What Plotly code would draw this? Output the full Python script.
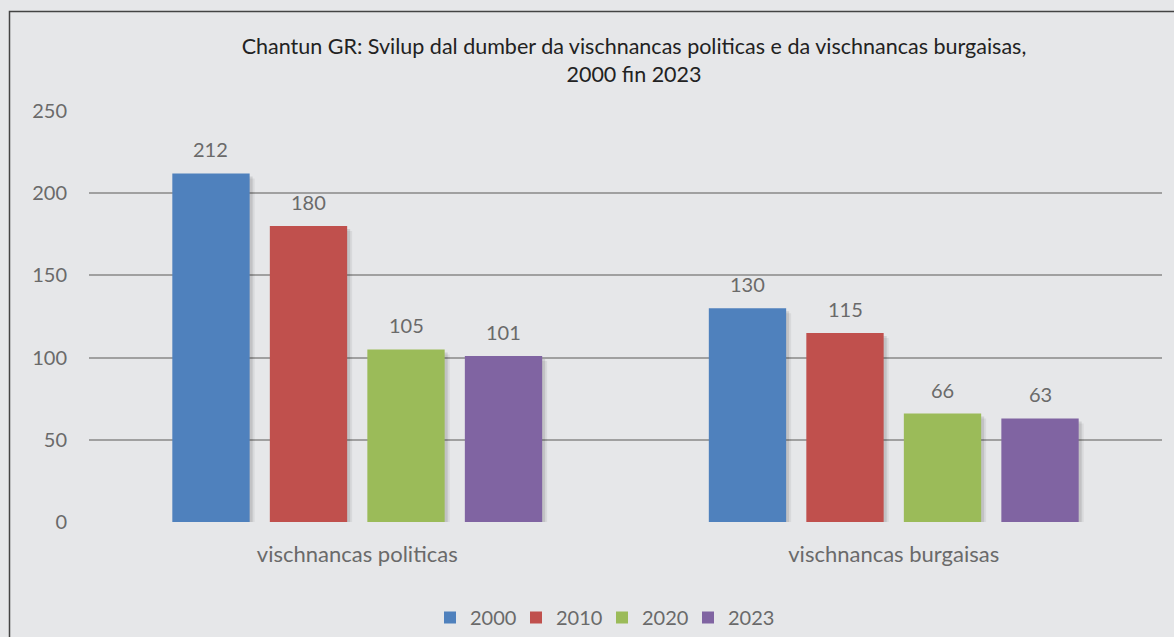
import plotly.graph_objects as go

categories = ["vischnancas politicas", "vischnancas burgaisas"]
years = ["2000", "2010", "2020", "2023"]
values = {
    "2000": [212, 130],
    "2010": [180, 115],
    "2020": [105, 66],
    "2023": [101, 63],
}
colors = ["#4f81bd", "#c0504d", "#9bbb59", "#8064a2"]
title_text = "Chantun GR: Svilup dal dumber da vischnancas politicas e da vischnancas burgaisas,<br>2000 fin 2023"
y_ticks = [0, 50, 100, 150, 200, 250]

FONT = "Lato"
BG = "#e6e7e9"
TXT = "#6a6a6a"
W, H = 1174, 637
ML, MR, MT, MB = 89, 12, 111, 115
PW, PH = W - ML - MR, H - MT - MB
YMAX = 250
bargap = 0.273
bargroupgap = 0.207

n = len(years)
slot = (1 - bargap) / n
bar_w = slot * (1 - bargroupgap)
px_x = PW / len(categories)      # pixels per category unit
px_y = PH / YMAX                 # pixels per value unit

fig = go.Figure()

# soft drop shadows
for k, yr in enumerate(years):
    center = -(1 - bargap) / 2 + slot * (k + 0.5)
    for d, a in [(5, 0.06), (3, 0.10)]:
        dx = d / px_x
        dy = d / px_y
        fig.add_trace(go.Bar(
            x=categories, y=[v for v in values[yr]], base=-dy,
            width=bar_w, offset=center - bar_w / 2 + dx,
            marker=dict(color=f"rgba(0,0,0,{a})", line=dict(width=0)),
            showlegend=False, hoverinfo="skip", cliponaxis=False,
        ))

for k, (yr, col) in enumerate(zip(years, colors)):
    center = -(1 - bargap) / 2 + slot * (k + 0.5)
    fig.add_trace(go.Bar(
        name=yr, x=categories, y=values[yr],
        width=bar_w, offset=center - bar_w / 2,
        marker=dict(color=col, line=dict(width=0)),
    ))
    for i, v in enumerate(values[yr]):
        fig.add_annotation(
            x=i + center, y=v, xref="x", yref="y", text=str(v),
            showarrow=False, yanchor="bottom", yshift=10,
            font=dict(family=FONT, size=20, color=TXT),
        )

fig.update_layout(
    width=W, height=H,
    barmode="overlay",
    paper_bgcolor=BG, plot_bgcolor=BG,
    margin=dict(l=ML, r=MR, t=MT, b=MB, autoexpand=False),
    font=dict(family=FONT, size=20, color=TXT),
    title=dict(
        text=title_text, x=634 / W, xanchor="center", y=1 - 54 / H, yanchor="middle",
        yref="container", xref="container",
        font=dict(family=FONT, size=21.5, color="#222222"),
    ),
    showlegend=True,
    legend=dict(
        orientation="h", x=(602 - ML) / PW, xanchor="center",
        y=-(598 - (MT + PH)) / PH, yanchor="top",
        font=dict(family=FONT, size=20, color=TXT), bgcolor="rgba(0,0,0,0)",
        traceorder="normal", itemwidth=30, entrywidth=41, entrywidthmode="pixels",
    ),
    xaxis=dict(
        range=[-0.5, len(categories) - 0.5],
        showgrid=False, showline=False, zeroline=False,
        ticks="outside", ticklen=13, tickcolor="rgba(0,0,0,0)",
        tickfont=dict(family=FONT, size=22, color=TXT),
    ),
    yaxis=dict(
        range=[0, YMAX], tickvals=y_ticks, showgrid=True, gridcolor="#a0a0a0", gridwidth=2,
        zeroline=False, showline=False,
        ticks="outside", ticklen=17, tickcolor="rgba(0,0,0,0)",
        tickfont=dict(family=FONT, size=20, color=TXT),
    ),
    shapes=[dict(
        type="rect", xref="paper", yref="paper",
        x0=(9.5 - ML) / PW, x1=1.05, y0=-0.4, y1=(MT + PH - 11.5) / PH,
        line=dict(color="#444444", width=1.5), fillcolor="rgba(0,0,0,0)", layer="below",
    )],
)

fig.write_html(
    "out.html",
    config={"displayModeBar": False},
    post_script="document.body.style.margin='0';document.body.style.background='" + BG + "';",
)
